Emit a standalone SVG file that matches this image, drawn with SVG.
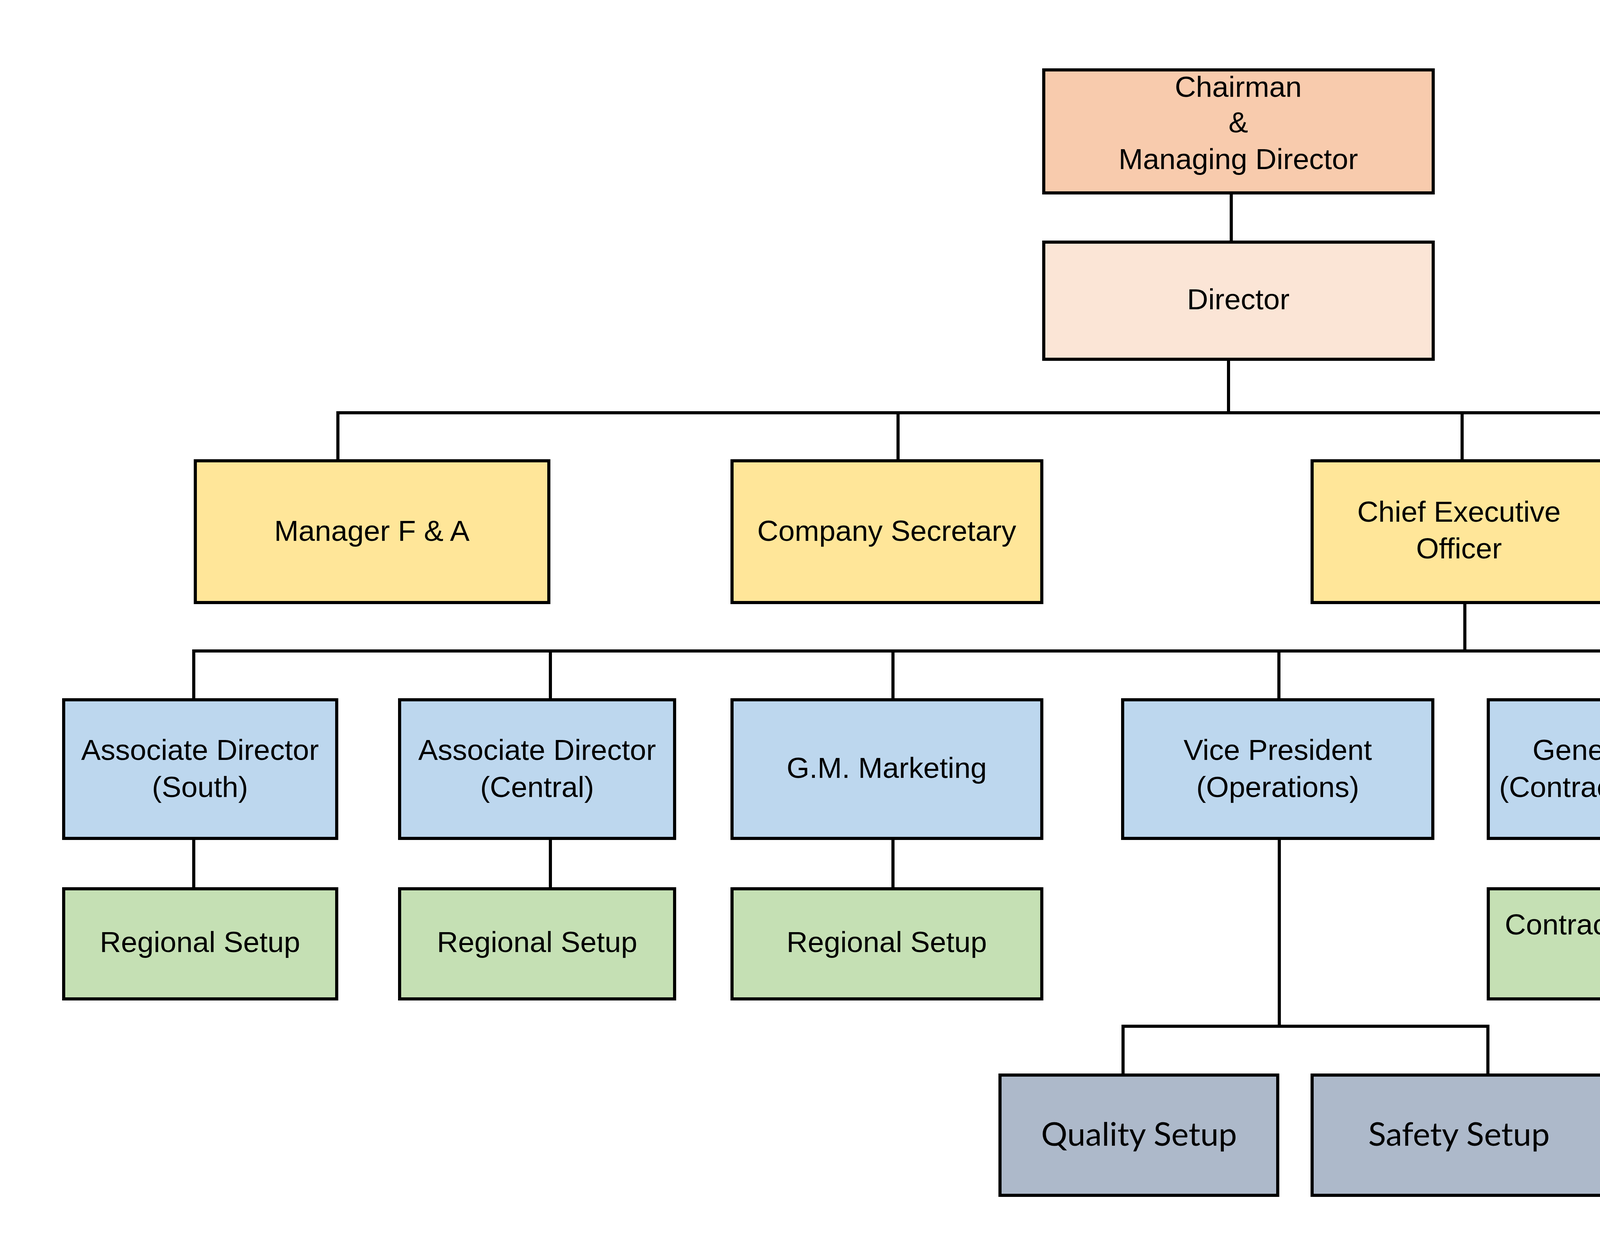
<svg xmlns="http://www.w3.org/2000/svg" width="6526" height="3201" viewBox="0 0 6526 3201">
<style>
.box{stroke:#000;stroke-width:8}
.c1{fill:#F8CBAD}.c2{fill:#FBE5D6}.c3{fill:#FFE699}.c4{fill:#BDD7EE}.c5{fill:#C5E0B4}.c6{fill:#ADB9CA}
.t{font-family:"Liberation Sans",Arial,sans-serif;font-size:75px;fill:#000;text-anchor:middle}
.k{font-family:Lato,"Open Sans",sans-serif;font-size:82px;fill:#000;text-anchor:middle}
#connectors path{fill:none;stroke:#000;stroke-width:8}
</style>
<rect width="6526" height="3201" fill="#fff"/>
<g id="connectors">
<path d="M3152 494V620"/>
<path d="M3145 920V1057"/>
<path d="M865 1180V1057H4785V1180M2299 1057V1180M3743 1057V1180"/>
<path d="M3750 1543V1667"/>
<path d="M496 1792V1667H6052V1792M1409 1667V1792M2286 1667V1792M3274 1667V1792M4199 1667V1792M5140 1667V1792"/>
<path d="M496 2147V2276M1409 2147V2276M2286 2147V2276M4199 2147V2276M5140 2147V2276M6052 2147V2276"/>
<path d="M3275 2147V2628M2875 2753V2628H3809V2753"/>
</g>
<g id="chairman"><rect class="box c1" x="2672" y="179" width="997" height="315"/><text class="t" x="3170" y="248">Chairman</text><text class="t" x="3170" y="339">&amp;</text><text class="t" x="3170" y="433">Managing Director</text></g>
<g id="director"><rect class="box c2" x="2672" y="620" width="997" height="300"/><text class="t" x="3170" y="792">Director</text></g>
<g id="manager-fa"><rect class="box c3" x="500" y="1180" width="905" height="363"/><text class="t" x="952" y="1385">Manager F &amp; A</text></g>
<g id="company-secretary"><rect class="box c3" x="1874" y="1180" width="793" height="363"/><text class="t" x="2270" y="1385">Company Secretary</text></g>
<g id="ceo"><rect class="box c3" x="3359" y="1180" width="752" height="363"/><text class="t" x="3735" y="1336">Chief Executive</text><text class="t" x="3735" y="1430">Officer</text></g>
<g id="vp-infra"><rect class="box c3" x="4279" y="1180" width="797" height="363"/><text class="t" x="4678" y="1336" xml:space="preserve">Vice President  (Infra.</text><text class="t" x="4678" y="1430">&amp; Finance)</text></g>
<g id="assoc-south"><rect class="box c4" x="163" y="1792" width="699" height="355"/><text class="t" x="512" y="1946">Associate Director</text><text class="t" x="512" y="2041">(South)</text></g>
<g id="assoc-central"><rect class="box c4" x="1023" y="1792" width="704" height="355"/><text class="t" x="1375" y="1946">Associate Director</text><text class="t" x="1375" y="2041">(Central)</text></g>
<g id="gm-marketing"><rect class="box c4" x="1874" y="1792" width="793" height="355"/><text class="t" x="2270" y="1992">G.M. Marketing</text></g>
<g id="vp-operations"><rect class="box c4" x="2874" y="1792" width="794" height="355"/><text class="t" x="3271" y="1946">Vice President</text><text class="t" x="3271" y="2041">(Operations)</text></g>
<g id="gm-contracts"><rect class="box c4" x="3810" y="1792" width="810" height="355"/><text class="t" x="4215" y="1946">General Manager</text><text class="t" x="4215" y="2041">(Contracts &amp; Planning)</text></g>
<g id="manager-hr"><rect class="box c4" x="4789" y="1792" width="697" height="355"/><text class="t" x="5138" y="1946">Manager</text><text class="t" x="5138" y="2041">(Hr &amp; Admin)</text></g>
<g id="manager-purchase"><rect class="box c4" x="5647" y="1792" width="770" height="355"/><text class="k" x="6032" y="1934" style="font-size:80px">Manager</text><text class="k" x="6032" y="2057" style="font-size:80px">(Purchase)</text></g>
<g id="regional-south"><rect class="box c5" x="163" y="2276" width="699" height="282"/><text class="t" x="512" y="2438">Regional Setup</text></g>
<g id="regional-central"><rect class="box c5" x="1023" y="2276" width="704" height="282"/><text class="t" x="1375" y="2438">Regional Setup</text></g>
<g id="regional-marketing"><rect class="box c5" x="1874" y="2276" width="793" height="282"/><text class="t" x="2270" y="2438">Regional Setup</text></g>
<g id="contracts-setup"><rect class="box c5" x="3810" y="2276" width="810" height="282"/><text class="t" x="4215" y="2393">Contracts &amp; tendering</text><text class="t" x="4215" y="2485">Setup</text></g>
<g id="hr-setup"><rect class="box c5" x="4789" y="2276" width="697" height="282"/><text class="t" x="5138" y="2393">HR &amp; Admin</text><text class="t" x="5138" y="2485">Setup</text></g>
<g id="purchase-setup"><rect class="box c5" x="5647" y="2276" width="770" height="282"/><text class="k" x="6032" y="2384" style="font-size:80px">Purchase</text><text class="k" x="6032" y="2505" style="font-size:80px">Setup</text></g>
<g id="quality-setup"><rect class="box c6" x="2560" y="2753" width="711" height="308"/><text class="k" x="2916" y="2934" style="font-size:84px">Quality Setup</text></g>
<g id="safety-setup"><rect class="box c6" x="3359" y="2753" width="752" height="308"/><text class="k" x="3735" y="2934" style="font-size:84px">Safety Setup</text></g>
</svg>
